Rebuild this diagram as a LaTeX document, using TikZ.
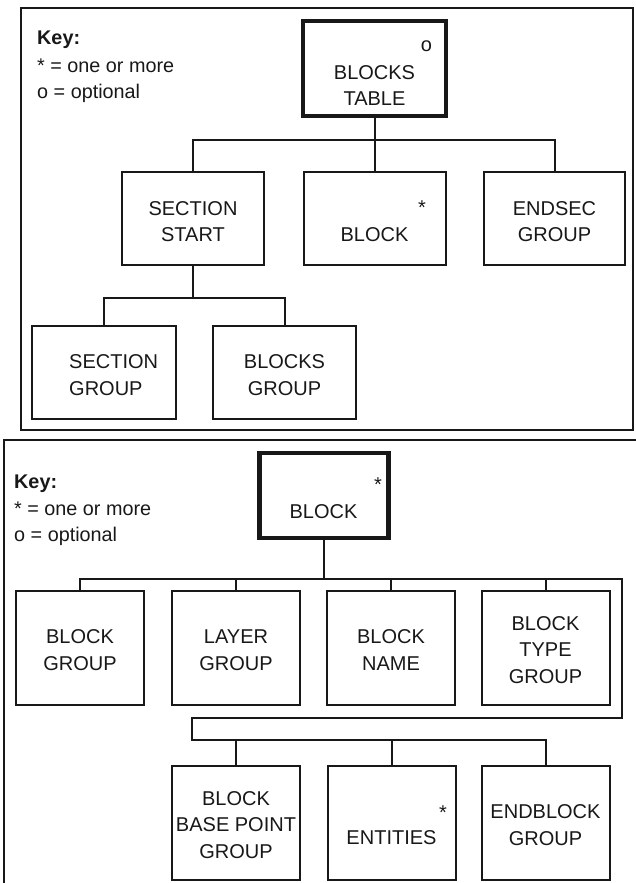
\documentclass[tikz,border=0pt]{standalone}
\usepackage{fontspec}
\setmainfont{Liberation Sans}
\definecolor{ink}{HTML}{181818}
\begin{document}
\begin{tikzpicture}[x=1pt,y=-1pt,
  box/.style={draw=ink, line width=2pt, rectangle, inner sep=0pt},
  thickbox/.style={box, line width=4.5pt},
  lbl/.style={text=ink, font=\fontsize{20}{26.5}\selectfont, align=center, inner sep=0pt},
  markglyph/.style={text=ink, font=\fontsize{20}{26.5}\selectfont, inner sep=0pt, anchor=base},
  keytxt/.style={text=ink, font=\fontsize{19.8}{24}\selectfont, anchor=base west, inner sep=0pt},
  conn/.style={draw=ink, line width=2pt}]
\useasboundingbox (0,0) rectangle (636,883);

% frames
\draw[conn] (21,8) rectangle (633,430);
\draw[conn] (636,440) -- (4,440) -- (4,883);

% ---------- top panel ----------
\node[keytxt] (k1) at (37,45) {\textbf{Key:}};
\node[keytxt] (k2) at (37,73) {* = one or more};
\node[keytxt] (k3) at (37,99) {o = optional};

\node[thickbox, minimum width=143pt, minimum height=95pt] (tbl) at (374.5,68.5) {};
\node[lbl] (tblt) at (374.5,85.5) {BLOCKS\\TABLE};
\node[markglyph] (tblo) at (426.5,52) {o};

\node[box, minimum width=141.5pt, minimum height=93pt] (ss) at (193,218.5) {};
\node[lbl] (sst) at (193,221.5) {SECTION\\START};
\node[box, minimum width=142pt, minimum height=93pt] (blk) at (374.5,218.5) {};
\node[lbl] (blkt) at (374.5,235) {BLOCK};
\node[markglyph] (blks) at (422,214) {*};
\node[box, minimum width=141pt, minimum height=93pt] (es) at (554.5,218.5) {};
\node[lbl] (est) at (554.5,221.5) {ENDSEC\\GROUP};

\node[box, minimum width=144pt, minimum height=93pt] (sg) at (104,372.5) {};
\node[lbl, align=left, anchor=west] (sgt) at (69,375) {SECTION\\GROUP};
\node[box, minimum width=143pt, minimum height=93pt] (bg) at (284.5,372.5) {};
\node[lbl] (bgt) at (284.5,375) {BLOCKS\\GROUP};

\coordinate (t1) at (374.5,140);
\coordinate (t2) at (193,298);
\draw[conn] (tbl.south) -- (tbl.south |- t1);
\draw[conn] (ss.north) -- (ss.north |- t1) -- (es.north |- t1) -- (es.north);
\draw[conn] (blk.north) -- (blk.north |- t1);
\draw[conn] (ss.south) -- (t2);
\draw[conn] (sg.north) -- (sg.north |- t2) -- (bg.north |- t2) -- (bg.north);

% ---------- bottom panel ----------
\node[keytxt] (k4) at (14,488) {\textbf{Key:}};
\node[keytxt] (k5) at (14,515) {* = one or more};
\node[keytxt] (k6) at (14,541) {o = optional};

\node[thickbox, minimum width=129pt, minimum height=85pt] (blk2) at (324,495.5) {};
\node[lbl] (blk2t) at (323.5,512) {BLOCK};
\node[markglyph] (blk2s) at (378,491) {*};

\node[box, minimum width=128pt, minimum height=114pt] (bg2) at (80,648) {};
\node[lbl] (bg2t) at (80,650) {BLOCK\\GROUP};
\node[box, minimum width=128pt, minimum height=114pt] (lg) at (236,648) {};
\node[lbl] (lgt) at (236,650) {LAYER\\GROUP};
\node[box, minimum width=128pt, minimum height=114pt] (bn) at (391,648) {};
\node[lbl] (bnt) at (391,650) {BLOCK\\NAME};
\node[box, minimum width=128pt, minimum height=114pt] (btg) at (545.5,648) {};
\node[lbl] (btgt) at (545.5,650) {BLOCK\\TYPE\\GROUP};

\node[box, minimum width=128pt, minimum height=114pt] (bbp) at (236,823) {};
\node[lbl] (bbpt) at (236,825) {BLOCK\\BASE POINT\\GROUP};
\node[box, minimum width=128pt, minimum height=114pt] (ent) at (391.5,823) {};
\node[lbl] (entt) at (391.5,838) {ENTITIES};
\node[markglyph] (ents) at (443,819) {*};
\node[box, minimum width=128pt, minimum height=114pt] (eg) at (545.5,823) {};
\node[lbl] (egt) at (545.5,825) {ENDBLOCK\\GROUP};

\coordinate (u1) at (324,579);
\coordinate (u2) at (621.5,718);
\coordinate (u3) at (191.5,740);
\draw[conn] (blk2.south) -- (u1);
\draw[conn] (bg2.north) -- (bg2.north |- u1) -- (u1 -| u2) -- (u2) -- (u2 -| u3) -- (u3) -- (eg.north |- u3) -- (eg.north);
\draw[conn] (lg.north) -- (lg.north |- u1);
\draw[conn] (bn.north) -- (bn.north |- u1);
\draw[conn] (btg.north) -- (btg.north |- u1);
\draw[conn] (bbp.north) -- (bbp.north |- u3);
\draw[conn] (ent.north) -- (ent.north |- u3);
\end{tikzpicture}
\end{document}
